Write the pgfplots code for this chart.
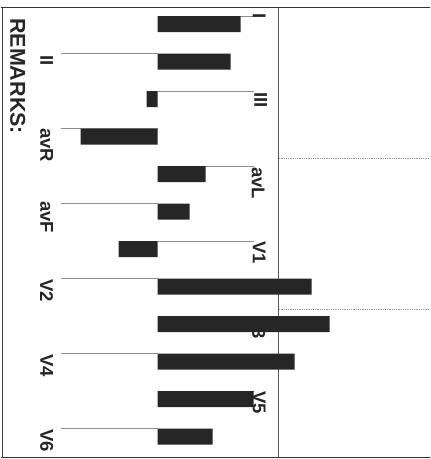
\documentclass[border=0pt]{standalone}
\usepackage{fontspec}
\setmainfont{Liberation Sans}
\usepackage{pgfplots}
\pgfplotsset{compat=1.18}
\begin{document}
\begin{tikzpicture}
\begin{axis}[
  scale only axis, width=429pt, height=459pt,
  xmin=-157, xmax=272, ymin=0, ymax=459, y dir=reverse,
  axis lines=none, clip=false,
]
\path (rel axis cs:0,0) rectangle (rel axis cs:1,1);
% frame
\addplot[black!80, line width=1.4pt] coordinates {(-157,7.5) (272,7.5)};
\addplot[black!80, line width=1.4pt] coordinates {(-157,457.5) (272,457.5)};
\addplot[black!75, line width=1.1pt] coordinates {(-155,7.5) (-155,457.5)};
\addplot[black!65, line width=0.9pt] coordinates {(121,7.5) (121,457.5)};
\addplot[black!40, densely dotted, line width=0.8pt] coordinates {(121,158) (272,158)};
\addplot[black!40, densely dotted, line width=0.8pt] coordinates {(121,309) (272,309)};
% leader lines
\addplot[black!45, line width=0.6pt] coordinates {(0,16) (96,16)};
\addplot[black!45, line width=0.6pt] coordinates {(-97,53.5) (0,53.5)};
\addplot[black!45, line width=0.6pt] coordinates {(0,91) (96,91)};
\addplot[black!45, line width=0.6pt] coordinates {(-97,128.5) (0,128.5)};
\addplot[black!45, line width=0.6pt] coordinates {(0,166) (96,166)};
\addplot[black!45, line width=0.6pt] coordinates {(-97,203.5) (0,203.5)};
\addplot[black!45, line width=0.6pt] coordinates {(0,241) (96,241)};
\addplot[black!45, line width=0.6pt] coordinates {(-97,278.5) (0,278.5)};
\addplot[black!45, line width=0.6pt] coordinates {(0,316) (96,316)};
\addplot[black!45, line width=0.6pt] coordinates {(-97,353.5) (0,353.5)};
\addplot[black!45, line width=0.6pt] coordinates {(0,391) (96,391)};
\addplot[black!45, line width=0.6pt] coordinates {(-97,428.5) (0,428.5)};
% labels
\begin{scope}[every node/.style={rotate=-90, anchor=west, inner sep=0pt, font=\fontsize{18.5}{20}\selectfont\bfseries, text=black!85}]
\node at (axis cs:101.5,13) {I};
\node at (axis cs:-111,55) {II};
\node at (axis cs:103,92) {III};
\node at (axis cs:-111,128) {avR};
\node at (axis cs:100.5,167) {avL};
\node at (axis cs:-111,201) {avF};
\node at (axis cs:101.5,241) {V1};
\node at (axis cs:-111,279) {V2};
\node at (axis cs:101,316) {V3};
\node at (axis cs:-111,354) {V4};
\node at (axis cs:101.5,391) {V5};
\node at (axis cs:-111,429) {V6};
\end{scope}
\node[rotate=-90, anchor=west, inner sep=0pt, font=\fontsize{21.5}{24}\selectfont\bfseries, text=black!85] at (axis cs:-140,18) {REMARKS:};
% bars
\addplot[xbar, bar width=16pt, fill=black!85, draw=none] coordinates {
(83,24) (73,61.5) (-11,99) (-77,136.5) (48,174) (32,211.5)
(-39,249) (154,286.5) (172,324) (137,361.5) (96,399) (55,436.5)};
\end{axis}
\end{tikzpicture}
\end{document}
